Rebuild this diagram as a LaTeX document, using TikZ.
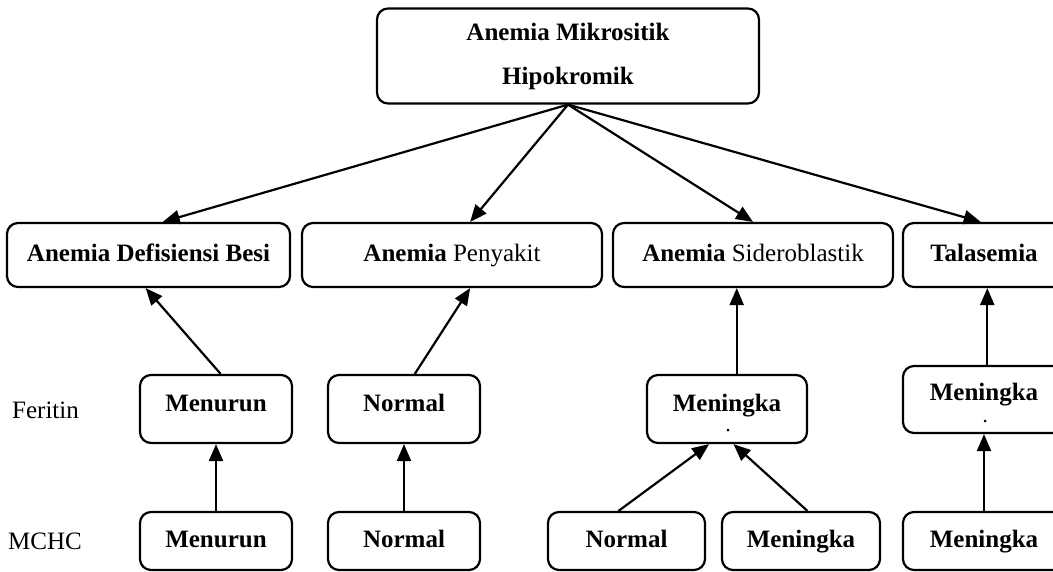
\documentclass[tikz,border=0pt]{standalone}
\usepackage{fontspec}
\setmainfont{Liberation Serif}
\usetikzlibrary{arrows.meta,calc}
\begin{document}
\begin{tikzpicture}[x=1pt,y=-1pt,
  box/.style={draw=black,line width=2.2pt,rounded corners=11pt,inner sep=0pt,align=center,
     font=\fontsize{25}{29}\selectfont\bfseries,text height=17pt,text depth=5pt},
  lbl/.style={inner sep=0pt,font=\fontsize{25}{29}\selectfont,text height=17pt,text depth=5pt},
  arr/.style={line width=2.2pt,-{Triangle[length=17pt,width=14pt]}}]
\clip (0,0) rectangle (1053,571);
\fill[white] (0,0) rectangle (1053,571);
% top
\node[box,minimum width=382pt,minimum height=95pt,text height=,text depth=,
  font=\fontsize{25}{44}\selectfont\bfseries] (top) at (568,56) {Anemia Mikrositik\\Hipokromik};
% row 2
\node[box,minimum width=283pt,minimum height=64pt] (adb) at (148.5,255) {Anemia Defisiensi Besi};
\node[box,minimum width=300pt,minimum height=64pt] (pen) at (452,255) {Anemia {\mdseries Penyakit}};
\node[box,minimum width=280pt,minimum height=64pt] (sid) at (753,255) {Anemia {\mdseries Sideroblastik}};
\node[box,minimum width=162pt,minimum height=64pt] (tal) at (984,255) {Talasemia};
% Feritin row
\node[lbl,anchor=west] (fer) at (12,412) {Feritin};
\node[box,minimum width=152pt,minimum height=68pt,text depth=12pt] (f1) at (216,409) {Menurun};
\node[box,minimum width=152pt,minimum height=68pt,text depth=12pt] (f2) at (404,409) {Normal};
\node[box,minimum width=160pt,minimum height=68pt,text depth=12pt] (f3) at (727,409) {Meningka};
\node[box,minimum width=162pt,minimum height=67pt,text depth=16pt] (f4) at (984,399.5) {Meningka};
\fill (728,430) circle (1.5pt);
\fill (985,421) circle (1.5pt);
% MCHC row
\node[lbl,anchor=west] (mch) at (8,543) {MCHC};
\node[box,minimum width=152pt,minimum height=58pt] (m1) at (216,541) {Menurun};
\node[box,minimum width=152pt,minimum height=58pt] (m2) at (404,541) {Normal};
\node[box,minimum width=157pt,minimum height=58pt] (m3) at (626.5,541) {Normal};
\node[box,minimum width=158pt,minimum height=58pt] (m4) at (801,541) {Meningka};
\node[box,minimum width=162pt,minimum height=58pt] (m5) at (984,541) {Meningka};
% arrows from top
\draw[arr] (top.south) -- ($(adb.north west)!0.55!(adb.north east)$);
\draw[arr] (top.south) -- ($(pen.north west)!0.56!(pen.north east)$);
\draw[arr] (top.south) -- ($(sid.north west)!0.5!(sid.north east)$);
\draw[arr] (top.south) -- ($(tal.north west)!0.48!(tal.north east)$);
% Feritin -> diagnosis
\coordinate (f3top) at ($(f3.north west)!0.56!(f3.north east)$);
\coordinate (f4top) at ($(f4.north west)!0.52!(f4.north east)$);
\draw[arr] ($(f1.north west)!0.53!(f1.north east)$) -- ($(adb.south west)!0.49!(adb.south east)$);
\draw[arr] ($(f2.north west)!0.57!(f2.north east)$) -- ($(pen.south west)!0.56!(pen.south east)$);
\draw[arr] (f3top) -- (sid.south -| f3top);
\draw[arr] (f4top) -- (tal.south -| f4top);
% MCHC -> Feritin
\draw[arr] (m1.north) -- (f1.south);
\draw[arr] (m2.north) -- (f2.south);
\draw[arr] ($(m3.north west)!0.45!(m3.north east)$) -- ($(f3.south west)!0.39!(f3.south east)$);
\draw[arr] ($(m4.north west)!0.54!(m4.north east)$) -- ($(f3.south west)!0.54!(f3.south east)$);
\draw[arr] (m5.north) -- (f4.south);
\end{tikzpicture}
\end{document}
